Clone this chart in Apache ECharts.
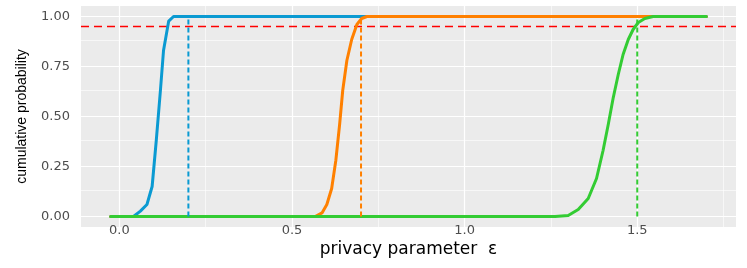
<!DOCTYPE html>
<html>
<head>
<meta charset="utf-8">
<script src="https://cdn.jsdelivr.net/npm/echarts@6/dist/echarts.min.js"></script>
<style>
  html, body { margin: 0; padding: 0; background: #fff; }
  #chart { width: 747px; height: 268px; }
</style>
</head>
<body>
<div id="chart"></div>
<script>
// x 轴刻度 / 网格
const xTicks = [0, 0.5, 1.0, 1.5]
const xTickLabels = ['0.0', '0.5', '1.0', '1.5']
const xMinor = [0.25, 0.75, 1.25, 1.75]
const yTicks = [0, 0.25, 0.5, 0.75, 1.0]
const yTickLabels = ['0.00', '0.25', '0.50', '0.75', '1.00']
const yMinor = [0.125, 0.375, 0.625, 0.875]

// 三条累计概率曲线
const blueX = [-0.025, 0.041, 0.061, 0.080, 0.095, 0.107, 0.119, 0.128, 0.143, 0.157, 1.70]
const blueY = [0, 0, 0.027, 0.06, 0.15, 0.38, 0.63, 0.83, 0.977, 1.0, 1.0]
const orangeX = [-0.025, 0.567, 0.587, 0.601, 0.615, 0.627, 0.638, 0.647, 0.659, 0.673, 0.688, 0.702, 0.717, 1.70]
const orangeY = [0, 0, 0.018, 0.06, 0.14, 0.28, 0.46, 0.63, 0.78, 0.885, 0.96, 0.99, 1.0, 1.0]
const greenX = [-0.025, 1.262, 1.300, 1.329, 1.358, 1.382, 1.401, 1.416, 1.430, 1.445, 1.459, 1.474, 1.488, 1.503, 1.522, 1.546, 1.70]
const greenY = [0, 0, 0.005, 0.035, 0.09, 0.19, 0.33, 0.46, 0.59, 0.71, 0.81, 0.885, 0.935, 0.97, 0.99, 1.0, 1.0]

// 95% 分位
const threshold = 0.95
const quantiles = [0.2, 0.7, 1.5]
const colors = ['#0a9ad2', '#ff8000', '#33cc33']

const pairs = (xs, ys) => xs.map((x, i) => [x, ys[i]])

const chart = echarts.init(document.getElementById('chart'))

const curveSeries = [
  pairs(blueX, blueY),
  pairs(orangeX, orangeY),
  pairs(greenX, greenY)
].map((data, i) => ({
  type: 'line',
  data: data,
  symbol: 'none',
  z: 3,
  lineStyle: { color: colors[i], width: 3, cap: 'round', join: 'round' }
}))

const quantSeries = quantiles.map((q, i) => ({
  type: 'line',
  data: [[q, 0], [q, 1]],
  symbol: 'none',
  z: 4,
  lineStyle: { color: colors[i], width: 2, type: [5, 3] }
}))

const option = {
  animation: false,
  grid: {
    left: 81,
    right: 11,
    top: 6,
    bottom: 41,
    containLabel: false,
    outerBoundsMode: 'none',
    show: true,
    backgroundColor: '#ebebeb',
    borderWidth: 0
  },
  xAxis: {
    type: 'value',
    min: -0.111,
    max: 1.786,
    name: 'privacy parameter  ε',
    nameLocation: 'middle',
    nameGap: 14,
    nameMoveOverlap: false,
    nameTextStyle: { color: '#000', fontSize: 17, fontFamily: 'DejaVu Sans' },
    axisLine: { show: false },
    splitLine: { show: false },
    axisTick: {
      show: true,
      customValues: xTicks,
      length: 4,
      lineStyle: { color: '#333', width: 1 }
    },
    axisLabel: {
      customValues: xTicks,
      formatter: (v) => xTickLabels[xTicks.indexOf(v)] || '',
      margin: -3,
      color: '#4d4d4d',
      fontSize: 13,
      fontFamily: 'DejaVu Sans'
    }
  },
  yAxis: {
    type: 'value',
    min: -0.0525,
    max: 1.0525,
    name: 'cumulative probability',
    nameLocation: 'middle',
    nameGap: 52,
    nameRotate: 90,
    nameMoveOverlap: false,
    nameTextStyle: { color: '#000', fontSize: 14, fontFamily: 'Liberation Sans' },
    axisLine: { show: false },
    splitLine: { show: false },
    axisTick: {
      show: true,
      customValues: yTicks,
      length: 4,
      lineStyle: { color: '#333', width: 1 }
    },
    axisLabel: {
      customValues: yTicks,
      formatter: (v) => yTickLabels[yTicks.indexOf(v)] || '',
      margin: 11,
      color: '#4d4d4d',
      fontSize: 13,
      fontFamily: 'DejaVu Sans'
    }
  },
  series: [
    // 网格线
    {
      type: 'line',
      data: [],
      z: 1,
      markLine: {
        z: 1,
        silent: true,
        symbol: 'none',
        label: { show: false },
        animation: false,
        data: [
          ...xMinor.map((v) => ({ xAxis: v, lineStyle: { color: '#fff', width: 0.6, type: 'solid' } })),
          ...yMinor.map((v) => ({ yAxis: v, lineStyle: { color: '#fff', width: 0.6, type: 'solid' } })),
          ...xTicks.map((v) => ({ xAxis: v, lineStyle: { color: '#fff', width: 1.2, type: 'solid' } })),
          ...yTicks.map((v) => ({ yAxis: v, lineStyle: { color: '#fff', width: 1.2, type: 'solid' } }))
        ]
      }
    },
    // 0.95 阈值线
    {
      type: 'line',
      data: [],
      z: 2,
      markLine: {
        z: 2,
        silent: true,
        symbol: 'none',
        label: { show: false },
        animation: false,
        data: [{ yAxis: threshold, lineStyle: { color: '#ff0000', width: 1.3, type: [8, 5] } }]
      }
    },
    ...curveSeries,
    ...quantSeries
  ]
}

chart.setOption(option)
</script>
</body>
</html>
